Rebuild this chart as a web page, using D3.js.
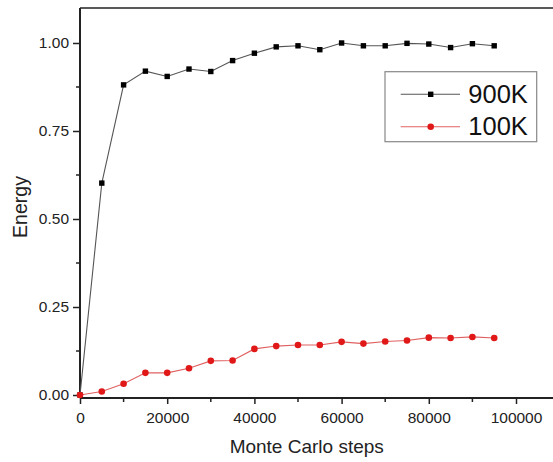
<!DOCTYPE html>
<html>
<head>
<meta charset="utf-8">
<script src="https://cdn.jsdelivr.net/npm/d3@7"></script>
<style>
html,body{margin:0;padding:0;background:#fff;overflow:hidden;}
svg{display:block;font-family:"Liberation Sans",Arial,sans-serif;}
</style>
</head>
<body>
<svg id="chart" width="553" height="462"></svg>
<script>
const steps = [0,5000,10000,15000,20000,25000,30000,35000,40000,45000,50000,55000,60000,65000,70000,75000,80000,85000,90000,95000];
const energy900K = [0,0.602,0.881,0.920,0.905,0.926,0.919,0.950,0.971,0.989,0.992,0.981,1.000,0.992,0.992,0.999,0.997,0.987,0.998,0.992];
const energy100K = [0,0.010,0.032,0.063,0.063,0.076,0.097,0.098,0.131,0.139,0.142,0.142,0.151,0.146,0.152,0.155,0.163,0.162,0.165,0.162];
const seriesNames = ["900K","100K"];
const xTicks = [0,20000,40000,60000,80000,100000];
const xMinorTicks = [10000,30000,50000,70000,90000];
const yTicks = [0,0.25,0.5,0.75,1.0];
const yMinorTicks = [0.125,0.375,0.625,0.875];
const xLabel = "Monte Carlo steps";
const yLabel = "Energy";

const svg = d3.select("#chart");
const x = d3.scaleLinear().domain([0,110000]).range([80,559.6]);
const y = d3.scaleLinear().domain([-0.0085,1.0994]).range([398,8]);

// frame top
svg.append("line").attr("x1",80).attr("x2",559.6).attr("y1",8).attr("y2",8)
  .attr("stroke","#222").attr("stroke-width",1.5);

// x axis
const gx = svg.append("g").attr("transform","translate(0,398)")
  .call(d3.axisBottom(x).tickValues(xTicks).tickSize(6).tickPadding(8).tickFormat(d3.format("d")));
gx.append("g").selectAll("line").data(xMinorTicks).join("line")
  .attr("x1",d=>x(d)).attr("x2",d=>x(d)).attr("y1",0).attr("y2",4)
  .attr("stroke","#222").attr("stroke-width",1.5);
// y axis
const gy = svg.append("g").attr("transform","translate(80,0)")
  .call(d3.axisLeft(y).tickValues(yTicks).tickSize(7).tickPadding(4).tickFormat(d3.format(".2f")));
gy.append("g").selectAll("line").data(yMinorTicks).join("line")
  .attr("x1",0).attr("x2",-4).attr("y1",d=>y(d)).attr("y2",d=>y(d))
  .attr("stroke","#222").attr("stroke-width",1.5);

[gx,gy].forEach(g=>{
  g.select(".domain").attr("stroke","#222").attr("stroke-width",2);
  g.selectAll(".tick line").attr("stroke","#222").attr("stroke-width",1.5);
  g.selectAll(".tick text").attr("fill","#222").style("font-size","15.5px")
   .style("font-family","'Liberation Sans',Arial,sans-serif");
});
gy.select(".domain").attr("d",`M0,${y.range()[0]}V${y.range()[1]}`);
gx.select(".domain").attr("d",`M${x.range()[0]},0H${x.range()[1]}`);

// lines
const lineGen = d3.line().x((d,i)=>x(steps[i])).y(d=>y(d));
svg.append("path").datum(energy100K).attr("d",lineGen)
  .attr("fill","none").attr("stroke","#e06060").attr("stroke-width",1.1);
svg.append("path").datum(energy900K).attr("d",lineGen)
  .attr("fill","none").attr("stroke","#555").attr("stroke-width",1.1);

svg.append("g").selectAll("rect").data(energy900K).join("rect")
  .attr("x",(d,i)=>x(steps[i])-2.7).attr("y",d=>y(d)-2.7)
  .attr("width",5.4).attr("height",5.4).attr("fill","#000");
svg.append("g").selectAll("circle").data(energy100K).join("circle")
  .attr("cx",(d,i)=>x(steps[i])).attr("cy",d=>y(d)).attr("r",3.3).attr("fill","#e01818");

// axis titles
svg.append("text").attr("x",x(52000)).attr("y",453).attr("text-anchor","middle")
  .style("font-size","19px").attr("fill","#222").text(xLabel);
svg.append("text").attr("transform","translate(27,207) rotate(-90)").attr("text-anchor","middle")
  .style("font-size","19.5px").attr("fill","#222").text(yLabel);

// legend
const lg = svg.append("g");
lg.append("rect").attr("x",385).attr("y",71.7).attr("width",151.7).attr("height",70)
  .attr("fill","#fff").attr("stroke","#888").attr("stroke-width",1.2);
const legendColors = [["#555","#000","rect"],["#e06060","#e01818","circle"]];
seriesNames.forEach((name,i)=>{
  const cy = 94.3 + i*32.4;
  lg.append("line").attr("x1",400.7).attr("x2",460).attr("y1",cy).attr("y2",cy)
    .attr("stroke",legendColors[i][0]).attr("stroke-width",1.1);
  if(legendColors[i][2]==="rect"){
    lg.append("rect").attr("x",430.7-2.7).attr("y",cy-2.7).attr("width",5.4).attr("height",5.4).attr("fill",legendColors[i][1]);
  } else {
    lg.append("circle").attr("cx",430.7).attr("cy",cy).attr("r",3.3).attr("fill",legendColors[i][1]);
  }
  lg.append("text").attr("x",468.3).attr("y",cy+8.6).style("font-size","25.5px")
    .attr("fill","#111").text(name);
});
</script>
</body>
</html>
